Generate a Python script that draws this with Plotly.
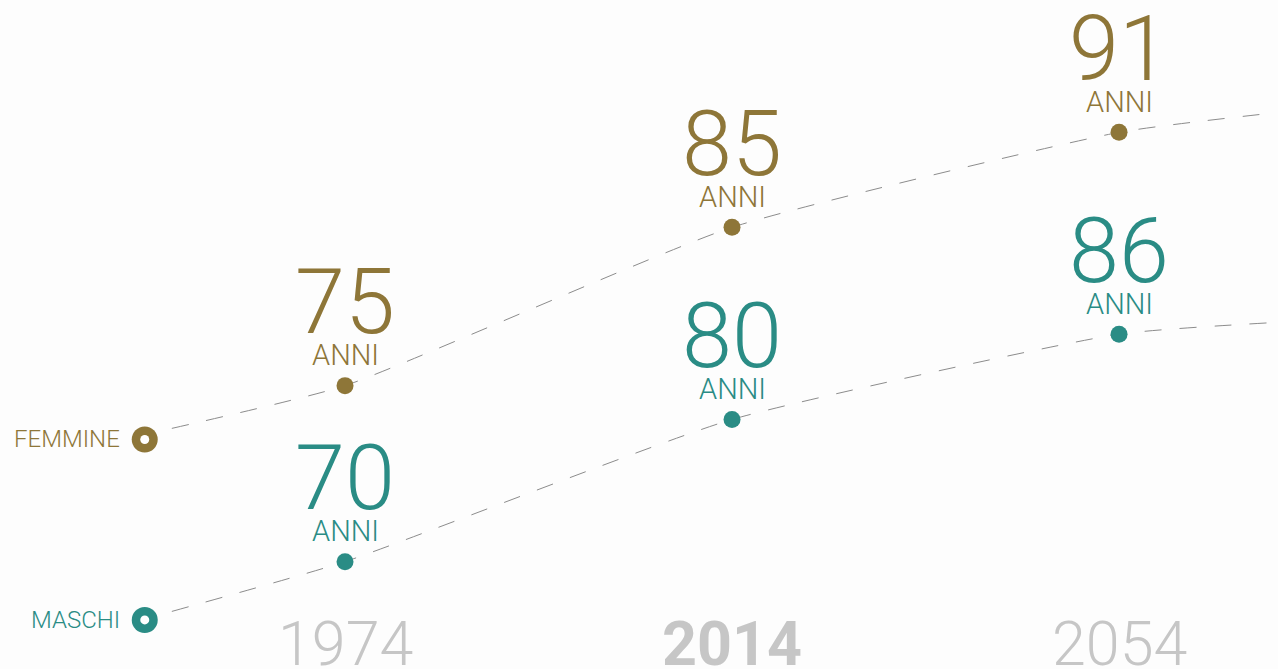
import plotly.graph_objects as go

# ---- data ----
years = [1974, 2014, 2054]
year_labels = ["1974", "2014", "2054"]
femmine = [75, 85, 91]
maschi = [70, 80, 86]
unit_label = "ANNI"
series_names = ["FEMMINE", "MASCHI"]
# dashed trend extension (start near legend, end at right edge)
trend_years = [1956.1, 2069.6]
femmine_trend = [72.3, 92.2]
maschi_trend = [66.5, 86.8]
legend_year = 1953.3
legend_vals = [71.6, 65.9]

# ---- style ----
GOLD = "#8E7638"
TEAL = "#2A8C85"
GREY = "#c6c6c6"
LINE = "#8c8c8c"
BG = "#fdfdfd"
FONT = "Roboto"

fig = go.Figure()

axes = [("y", femmine, femmine_trend, GOLD), ("y2", maschi, maschi_trend, TEAL)]
for i, (yax, vals, trend, col) in enumerate(axes):
    xs = [trend_years[0]] + years + [trend_years[1]]
    ys = [trend[0]] + vals + [trend[1]]
    fig.add_trace(go.Scatter(x=xs, y=ys, yaxis=yax, mode="lines",
                             line=dict(color=LINE, width=1, dash="17px,18px", shape="spline", smoothing=0.5),
                             hoverinfo="skip", showlegend=False))
    fig.add_trace(go.Scatter(x=years, y=vals, yaxis=yax, mode="markers",
                             marker=dict(color=col, size=17, line=dict(width=0)),
                             showlegend=False))
    # legend ring
    fig.add_trace(go.Scatter(x=[legend_year], y=[legend_vals[i]], yaxis=yax, mode="markers",
                             marker=dict(color=col, size=26, line=dict(width=0)), showlegend=False))
    fig.add_trace(go.Scatter(x=[legend_year], y=[legend_vals[i]], yaxis=yax, mode="markers",
                             marker=dict(color="white", size=9, line=dict(width=0)), showlegend=False))
    fig.add_annotation(x=legend_year, y=legend_vals[i], yref=yax, xanchor="right", yanchor="middle",
                       xshift=-23, text=series_names[i], showarrow=False,
                       font=dict(family=FONT, size=24, color=col, weight=300))
    for yr, v in zip(years, vals):
        fig.add_annotation(x=yr, y=v, yref=yax, xanchor="center", yanchor="middle",
                           yshift=83, text=str(v), showarrow=False,
                           font=dict(family=FONT, size=90, color=col, weight=300))
        fig.add_annotation(x=yr, y=v, yref=yax, xanchor="center", yanchor="middle",
                           yshift=30.5, text=unit_label, showarrow=False,
                           font=dict(family=FONT, size=29, color=col, weight=300))

for yr, lab in zip(years, year_labels):
    bold = lab == "2014"
    fig.add_annotation(x=yr, y=0, yref="paper", xanchor="center", yanchor="middle",
                       yshift=25, text=lab, showarrow=False,
                       font=dict(family=FONT, size=61, color=GREY, weight=700 if bold else 300))

fig.update_layout(
    width=1278, height=669,
    margin=dict(l=0, r=0, t=0, b=0),
    paper_bgcolor=BG, plot_bgcolor=BG,
    xaxis=dict(range=[1938.34, 2070.43], visible=False, fixedrange=True),
    yaxis=dict(range=[57.10, 99.36], visible=False, fixedrange=True),
    yaxis2=dict(range=[62.45, 109.50], visible=False, overlaying="y", fixedrange=True),
    hovermode=False,
)

fig.write_html("out.html", config={"displayModeBar": False},
               post_script="document.body.style.margin='0';document.body.style.background='%s';" % BG)
